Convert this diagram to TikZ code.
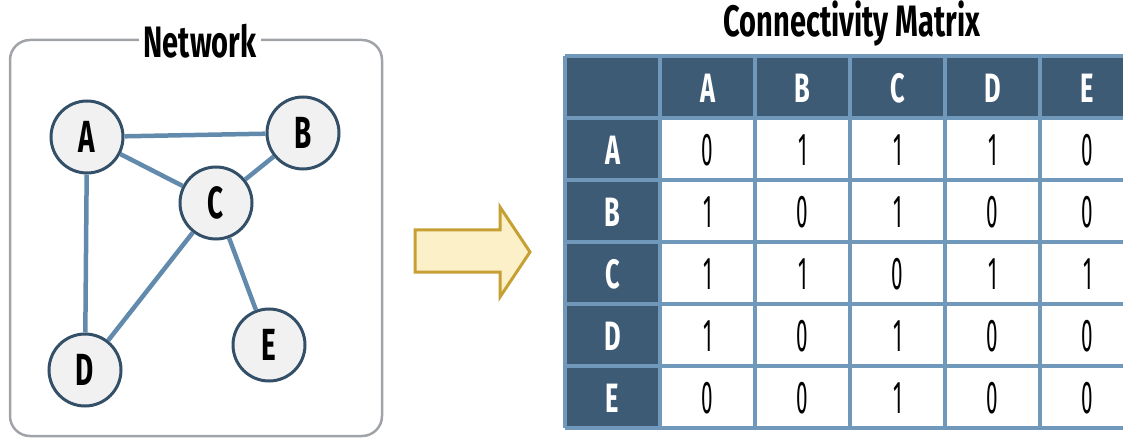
\documentclass[tikz,border=0pt]{standalone}
\usepackage{fontspec}
\setmainfont{Fira Sans}
\newfontfamily\condb{Fira Sans}[FakeStretch=0.62]
\newfontfamily\condt{Fira Sans}[FakeStretch=0.66]
\newfontfamily\condr{Fira Sans}[FakeStretch=0.45]
\definecolor{hdr}{RGB}{62,91,118}
\definecolor{gridc}{RGB}{112,152,186}
\definecolor{edgec}{RGB}{98,138,172}
\definecolor{nodeb}{RGB}{52,80,104}
\definecolor{nodef}{RGB}{241,241,242}
\definecolor{boxc}{RGB}{160,164,168}
\definecolor{arrf}{RGB}{252,240,200}
\definecolor{arrd}{RGB}{198,160,52}
\tikzset{
  vtx/.style={circle, draw=nodeb, line width=3pt, fill=nodef, minimum size=72pt, inner sep=0pt,
    font=\condb\bfseries\fontsize{45}{46}\selectfont},
  link/.style={draw=edgec, line width=4.5pt},
  hdrtxt/.style={text=white, font=\condb\bfseries\fontsize{41}{42}\selectfont, inner sep=0pt},
  valtxt/.style={text=black, font=\condr\fontsize{46}{46}\selectfont, inner sep=0pt},
  titletxt/.style={font=\condt\bfseries\fontsize{44}{44}\selectfont, inner sep=0pt}
}
\begin{document}
\begin{tikzpicture}[x=1pt,y=-1pt]
\useasboundingbox (0,0) rectangle (1123,438);
% network box
\draw[boxc, line width=2.5pt, rounded corners=20pt] (10,40) rectangle (382,436);
\node[titletxt, fill=white, inner xsep=5pt, inner ysep=2pt] (nettitle) at (200,41) {Network};
% vertices
\node[vtx] (A) at (87,137) {A};
\node[vtx] (B) at (303,133) {B};
\node[vtx] (C) at (216,203) {C};
\node[vtx] (D) at (85,370) {D};
\node[vtx] (E) at (269,345) {E};
\draw[link] (A) -- (B);
\draw[link] (A) -- (C);
\draw[link] (A) -- (D);
\draw[link] (B) -- (C);
\draw[link] (C) -- (D);
\draw[link] (C) -- (E);
% arrow
\draw[arrd, fill=arrf, line width=3pt, line join=miter]
  (415,230) -- (500,230) -- (500,207) -- (530,252) -- (500,297) -- (500,272) -- (415,272) -- cycle;
% matrix title
\node[titletxt] (mtitle) at (852,24) {Connectivity Matrix};
% matrix
\fill[hdr] (565,56) rectangle (1135,118);
\fill[hdr] (565,56) rectangle (660,428);
\foreach \x in {565,660,...,1135} \draw[gridc, line width=3.5pt] (\x,56) -- (\x,428);
\foreach \y in {56,118,...,428} \draw[gridc, line width=3.5pt] (565,\y) -- (1135,\y);
\foreach \l [count=\i] in {A,B,C,D,E} {
  \node[hdrtxt] (col\l) at ({612.5+95*\i},88) {\l};
  \node[hdrtxt] (row\l) at (612.5,{88+62*\i}) {\l};
}
\foreach \vals [count=\j] in {{0,1,1,1,0},{1,0,1,0,0},{1,1,0,1,1},{1,0,1,0,0},{0,0,1,0,0}} {
  \foreach \v [count=\i] in \vals {
    \node[valtxt] (m\j\i) at ({612.5+95*\i},{88+62*\j}) {\v};
  }
}
\end{tikzpicture}
\end{document}
